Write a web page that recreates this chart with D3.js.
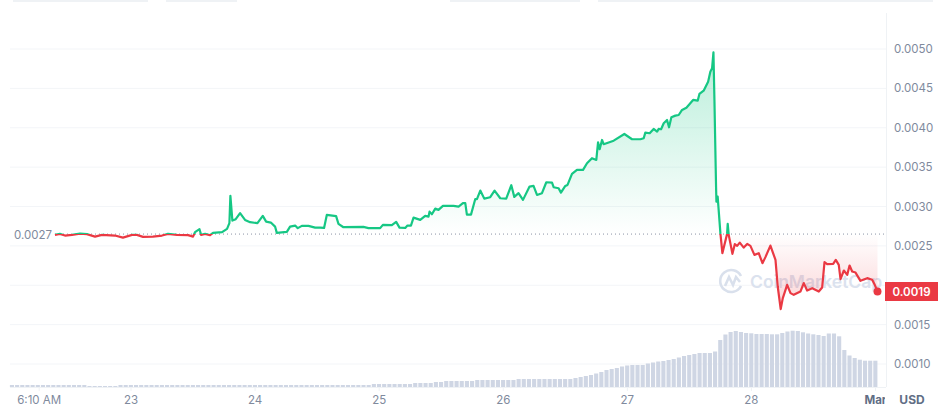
<!DOCTYPE html>
<html>
<head>
<meta charset="utf-8">
<script src="https://cdn.jsdelivr.net/npm/d3@7"></script>
<style>
html,body{margin:0;padding:0;background:#fff;overflow:hidden}
text{font-family:Inter,"Noto Sans",sans-serif}
</style>
</head>
<body>
<svg id="c" width="944" height="409"></svg>
<script>
const priceDays=[22.387,22.427,22.468,22.524,22.589,22.645,22.710,22.766,22.871,22.935,23.008,23.048,23.097,23.177,23.25,23.298,23.371,23.46,23.5,23.516,23.552,23.565,23.597,23.637,23.661,23.734,23.774,23.793,23.801,23.817,23.844,23.879,23.919,23.96,24.019,24.062,24.089,24.127,24.161,24.175,24.256,24.282,24.323,24.344,24.377,24.43,24.484,24.524,24.556,24.578,24.653,24.672,24.712,24.873,24.914,25.008,25.03,25.102,25.137,25.164,25.21,25.228,25.256,25.277,25.331,25.371,25.398,25.406,25.425,25.452,25.478,25.514,25.599,25.64,25.675,25.694,25.707,25.74,25.774,25.788,25.815,25.847,25.895,25.93,25.976,26.024,26.065,26.089,26.123,26.159,26.212,26.244,26.272,26.312,26.347,26.393,26.406,26.446,26.465,26.5,26.518,26.554,26.594,26.643,26.675,26.715,26.75,26.764,26.777,26.796,26.809,26.89,26.976,27.038,27.105,27.132,27.145,27.18,27.212,27.24,27.252,27.272,27.293,27.32,27.336,27.355,27.387,27.414,27.441,27.476,27.53,27.567,27.581,27.615,27.651,27.669,27.683,27.694,27.702,27.712,27.715,27.718,27.728,27.75,27.766,27.804,27.809,27.817,27.847,27.866,27.885,27.906,27.938,27.966,27.992,28.024,28.059,28.089,28.113,28.153,28.194,28.212,28.236,28.253,28.288,28.315,28.341,28.395,28.422,28.449,28.49,28.543,28.57,28.589,28.61,28.659,28.68,28.704,28.718,28.745,28.772,28.791,28.812,28.839,28.879,28.933,28.973,28.994,29.016];
const priceValues=[.00264,.002652,.002631,.00264,.002656,.002649,.002618,.00264,.002631,.002605,.00264,.00264,.002614,.002618,.002631,.002652,.00264,.002636,.002618,.002674,.002712,.00264,.002652,.002636,.002665,.002674,.002716,.002788,.003135,.002821,.002839,.002915,.00283,.002801,.002788,.002881,.002808,.002796,.002745,.002665,.002678,.002745,.002758,.002725,.002754,.002754,.002732,.002732,.002728,.002893,.002877,.002779,.002737,.002741,.002725,.002725,.002767,.002763,.002805,.002732,.002728,.002758,.002758,.002859,.00283,.002881,.002872,.002935,.002902,.002973,.002957,.003008,.003008,.002999,.003042,.003042,.002897,.002897,.003093,.003093,.003202,.0031,.003118,.003202,.003105,.0031,.00327,.003122,.003169,.003084,.003253,.003261,.003147,.003169,.003308,.003303,.003245,.003232,.003176,.003261,.003274,.003414,.003465,.003465,.00355,.003613,.003591,.003816,.003727,.003845,.003791,.003836,.003921,.003854,.003854,.003867,.003938,.00393,.003985,.003951,.003985,.003981,.004057,.004099,.004006,.004133,.004154,.004162,.004226,.004255,.004353,.004344,.004429,.004471,.004585,.004712,.004755,.004958,.004353,.003506,.003253,.003062,.003126,.002661,.002407,.002652,.002779,.00264,.002399,.002522,.0025,.002542,.002478,.002525,.0025,.002386,.002407,.00228,.002357,.002504,.002322,.001984,.001697,.001836,.002005,.0019,.001878,.00192,.002027,.001933,.001963,.00192,.001971,.002293,.002268,.002272,.002322,.002259,.002078,.002187,.002132,.00225,.002174,.002161,.002056,.00209,.002069,.002005,.00192];
const volumeValues=[2,2,2,2,2,2,2,2,2,2,2,2,2,2,2,1,1,1,1,1,1,2,2,2,2,2,2,2,2,2,2,2,2,2,2,2,2,2,2,2,2,2,2,2,2,2,2,2,2,2,2,2,2,2,2,2,2,2,2,2,2,2,2,2,2,2,2,2,2,2,3,3,3,3,3,3,3,3,4,4,4,4,5,5,6,6,6,6,6,6,7,7,7,7,7,7,7,7,8,8,8,8,8,8,8,8,8,8,8,9,10,11,12,13.5,15,17,18,19,20.5,21.5,22,22,22,23.5,24.5,25.5,26,27,28,29.5,31,32,33,34,34,34,35.5,47,52.5,55,56,55,54,53.7,53,53,53,52.7,52.7,54,55.5,56.3,56,54.7,53.5,52.7,52,51,53.5,53.5,50.7,37,31.5,29,27.3,26.3,26.3,26.3];
const yTicks=[.005,.0045,.004,.0035,.003,.0025,.002,.0015,.001];
const yTickLabels=["0.0050","0.0045","0.0040","0.0035","0.0030","0.0025","","0.0015","0.0010"];
const xTickDays=[22.26,23,24,25,26,27,28,29];
const xTickLabels=["6:10 AM","23","24","25","26","27","28","Mar"];
const openPrice=0.00265, openLabel="0.0027", lastLabel="0.0019", unit="USD", brand="CoinMarketCap";
const topTabs=[[13,135],[166,71],[450,130],[598,335]];

const GREEN="#16c784",RED="#ea3943",GRID="#f3f5f8",TXT="#808a9d";
const svg=d3.select("#c");
const x=d3.scaleLinear().domain([23,29]).range([131,875.5]);
const y=d3.scaleLinear().domain([.005,.001]).range([49,364]);
const v=d3.scaleLinear().domain([0,56]).range([387,331]);
const pts=priceDays.map((d,i)=>[d,priceValues[i]]);
const by=y(openPrice);
const defs=svg.append("defs");
const grad=(id,top,bot,c,a0,a1)=>{const g=defs.append("linearGradient").attr("id",id).attr("gradientUnits","userSpaceOnUse").attr("x1",0).attr("x2",0).attr("y1",top).attr("y2",bot);
 g.append("stop").attr("offset",0).attr("stop-color",c).attr("stop-opacity",a0);
 g.append("stop").attr("offset",1).attr("stop-color",c).attr("stop-opacity",a1);};
grad("gg",y(.00496),by,GREEN,.3,0);
grad("gr",by,y(.0017),RED,0,.22);
defs.append("clipPath").attr("id","above").append("rect").attr("x",0).attr("y",0).attr("width",944).attr("height",by);
defs.append("clipPath").attr("id","below").append("rect").attr("x",0).attr("y",by).attr("width",944).attr("height",409-by);
defs.append("clipPath").attr("id","mar").append("rect").attr("x",0).attr("y",380).attr("width",885).attr("height",29);

svg.selectAll(".tab").data(topTabs).join("rect").attr("x",d=>d[0]).attr("y",0).attr("width",d=>d[1]).attr("height",2).attr("fill","#eff2f5");

svg.selectAll(".grid").data(yTicks).join("line").attr("x1",10).attr("x2",886).attr("y1",d=>y(d)).attr("y2",d=>y(d)).attr("stroke",GRID);
svg.append("line").attr("x1",886.5).attr("x2",886.5).attr("y1",13).attr("y2",387).attr("stroke","#eff2f5");
svg.append("line").attr("x1",10).attr("x2",886).attr("y1",387.5).attr("y2",387.5).attr("stroke","#eff2f5");
svg.selectAll(".xt").data(xTickDays).join("line").attr("x1",d=>x(d)).attr("x2",d=>x(d)).attr("y1",387).attr("y2",391).attr("stroke","#eff2f5");

const wm=svg.append("g").attr("fill","none").attr("stroke","#d9e0ec").attr("stroke-width",2.6);
wm.append("path").attr("d","M741 286a11 11 0 1 1 0-10M725 286l4-9 4 8 3-8 4 5");
svg.append("text").attr("x",750).attr("y",288).attr("font-size",17.5).attr("font-weight",600).attr("fill","#dbe2ee").text(brand);

svg.selectAll(".bar").data(volumeValues).join("rect").attr("x",(d,i)=>x(22.024+i/24)).attr("width",4.1)
 .attr("y",d=>v(d)).attr("height",d=>387-v(d)).attr("fill","#cfd6e4");

const area=d3.area().x(d=>x(d[0])).y0(by).y1(d=>y(d[1]));
const line=d3.line().x(d=>x(d[0])).y(d=>y(d[1]));
svg.append("path").attr("d",area(pts)).attr("fill","url(#gg)").attr("clip-path","url(#above)");
svg.append("path").attr("d",area(pts)).attr("fill","url(#gr)").attr("clip-path","url(#below)");
svg.append("line").attr("x1",55).attr("x2",886).attr("y1",by).attr("y2",by).attr("stroke","#8a93a5").attr("stroke-dasharray","1 3");
svg.append("path").attr("d",line(pts)).attr("fill","none").attr("stroke",GREEN).attr("stroke-width",2.2).attr("stroke-linejoin","round").attr("clip-path","url(#above)");
svg.append("path").attr("d",line(pts)).attr("fill","none").attr("stroke",RED).attr("stroke-width",2.2).attr("stroke-linejoin","round").attr("clip-path","url(#below)");
const last=pts[pts.length-1];
svg.append("circle").attr("cx",x(last[0])).attr("cy",y(last[1])).attr("r",4).attr("fill",RED);

svg.selectAll(".yl").data(yTicks).join("text").attr("x",894).attr("y",d=>y(d)+4).attr("font-size",11.5).attr("fill",TXT).text((d,i)=>yTickLabels[i]);
svg.append("rect").attr("x",885).attr("y",282).attr("width",53).attr("height",19).attr("fill",RED);
svg.append("text").attr("x",911.5).attr("y",295.5).attr("text-anchor","middle").attr("font-size",11.5).attr("font-weight",600).attr("fill","#fff").text(lastLabel);
svg.append("rect").attr("x",10).attr("y",226).attr("width",44).attr("height",19).attr("fill","#fff");
svg.append("text").attr("x",14).attr("y",239).attr("font-size",11.5).attr("fill",TXT).text(openLabel);

svg.append("g").attr("clip-path","url(#mar)").selectAll("text").data(xTickDays).join("text")
 .attr("x",d=>x(d)).attr("y",404).attr("text-anchor","middle").attr("font-size",11.5)
 .attr("font-weight",(d,i)=>xTickLabels[i]==="Mar"?700:400).attr("fill",(d,i)=>xTickLabels[i]==="Mar"?"#616e85":TXT).text((d,i)=>xTickLabels[i]);
svg.append("text").attr("x",912).attr("y",404).attr("text-anchor","middle").attr("font-size",12).attr("font-weight",700).attr("fill","#616e85").text(unit);
</script>
</body>
</html>
